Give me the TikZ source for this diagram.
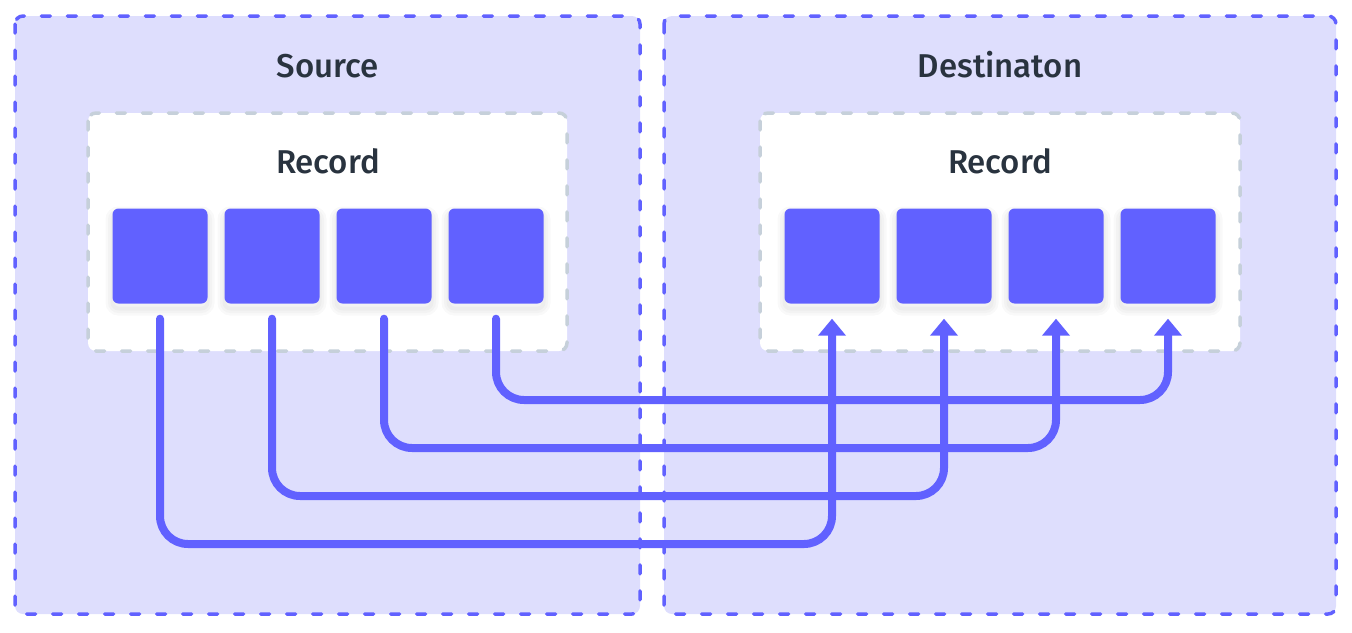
\documentclass[tikz,border=0pt]{standalone}
\usepackage{fontspec}
\setmainfont{Fira Sans}[UprightFont=* Medium]
\usetikzlibrary{arrows.meta}
\definecolor{blu}{HTML}{6161FF}
\definecolor{lav}{HTML}{DEDEFD}
\definecolor{gry}{HTML}{C6D0DA}
\definecolor{ink}{HTML}{29333F}
\tikzset{
  outerbox/.style={draw=blu, fill=lav, line width=3.5pt, line cap=round, dash pattern=on 9pt off 17pt, rounded corners=8pt},
  innerbox/.style={draw=gry, fill=white, line width=3.5pt, line cap=round, dash pattern=on 9pt off 17pt, rounded corners=8pt},
  shadowring/.style={preaction={draw=black, draw opacity=0.025, line width=#1, transform canvas={yshift=-5pt}}},
  field/.style={fill=blu, rounded corners=6pt, minimum width=95pt, minimum height=95pt, inner sep=0pt,
    shadowring=14pt, shadowring=9pt, shadowring=4pt},
  title/.style={text=ink, font=\fontsize{33}{40}\selectfont, anchor=base, inner sep=0pt},
  conn/.style={draw=blu, line width=8pt, line cap=round, rounded corners=28pt, -{Triangle[width=27pt,length=17pt]}},
}
\begin{document}
\begin{tikzpicture}[x=1pt,y=-1pt]
\useasboundingbox (0,0) rectangle (1352,632);
% outer containers
\draw[outerbox] (15,16) rectangle (640,614);
\draw[outerbox] (664,16) rectangle (1336,614);
\node[title] (src) at (328,77) {Source};
\node[title] (dst) at (1000,77) {Destinaton};
% inner records
\draw[innerbox] (88,113) rectangle (567,351);
\draw[innerbox] (760,113) rectangle (1240,351);
\node[title] (rs) at (328,173) {Record};
\node[title] (rd) at (1000,173) {Record};
% fields
\node[field] (s1) at (160,256) {};
\node[field] (s2) at (272,256) {};
\node[field] (s3) at (384,256) {};
\node[field] (s4) at (496,256) {};
\node[field] (d1) at (832,256) {};
\node[field] (d2) at (944,256) {};
\node[field] (d3) at (1056,256) {};
\node[field] (d4) at (1168,256) {};
% levels
\coordinate (h1) at (0,544);
\coordinate (h2) at (0,496);
\coordinate (h3) at (0,448);
\coordinate (h4) at (0,400);
% connectors
\draw[conn] ([yshift=-15pt]s1.south) -- (s1.south |- h1) -- (d1.south |- h1) -- ([yshift=-15pt]d1.south);
\draw[conn] ([yshift=-15pt]s2.south) -- (s2.south |- h2) -- (d2.south |- h2) -- ([yshift=-15pt]d2.south);
\draw[conn] ([yshift=-15pt]s3.south) -- (s3.south |- h3) -- (d3.south |- h3) -- ([yshift=-15pt]d3.south);
\draw[conn] ([yshift=-15pt]s4.south) -- (s4.south |- h4) -- (d4.south |- h4) -- ([yshift=-15pt]d4.south);
\end{tikzpicture}
\end{document}
